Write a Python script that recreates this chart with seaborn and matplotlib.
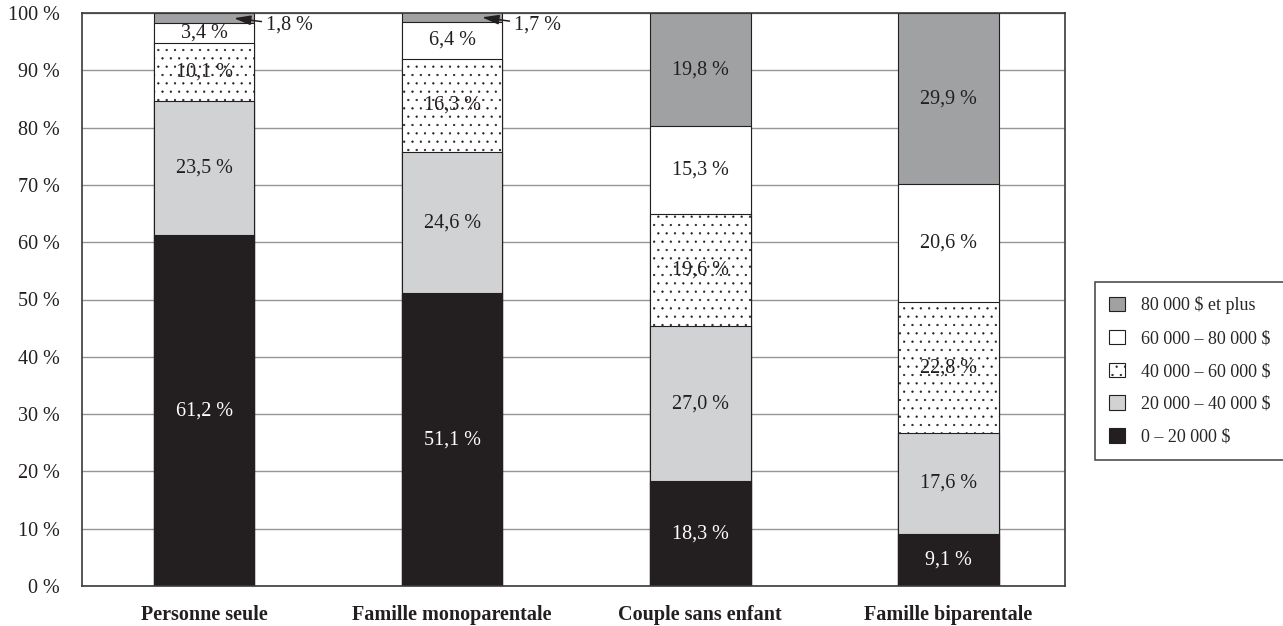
import numpy as np
import pandas as pd
import matplotlib
matplotlib.use("Agg")
import matplotlib.pyplot as plt
from matplotlib.patches import Patch
import seaborn as sns

categories = ["Personne seule", "Famille monoparentale", "Couple sans enfant", "Famille biparentale"]
tranches = ["0 – 20 000 $", "20 000 – 40 000 $", "40 000 – 60 000 $", "60 000 – 80 000 $", "80 000 $ et plus"]
v_0_20 = [61.2, 51.1, 18.3, 9.1]
v_20_40 = [23.5, 24.6, 27.0, 17.6]
v_40_60 = [10.1, 16.3, 19.6, 22.8]
v_60_80 = [3.4, 6.4, 15.3, 20.6]
v_80_plus = [1.8, 1.7, 19.8, 29.9]
y_ticks = [0, 10, 20, 30, 40, 50, 60, 70, 80, 90, 100]

series = [v_0_20, v_20_40, v_40_60, v_60_80, v_80_plus]
colors = ["#231f20", "#d1d2d3", "white", "white", "#a0a1a3"]
hatches = [None, None, "..", None, None]
text_colors = ["white", "#231f20", "#231f20", "#231f20", "#231f20"]

sns.set_theme(style="white")
plt.rcParams["font.family"] = ["Liberation Serif", "DejaVu Serif"]
plt.rcParams["hatch.linewidth"] = 0.4
plt.rcParams["hatch.color"] = "#231f20"

fig = plt.figure(figsize=(12.83, 6.26), dpi=100)
ax = fig.add_axes([82 / 1283, 1 - 586 / 626, (1065 - 82) / 1283, (586 - 13) / 626])

# cumulative stacks, drawn from the top layer down so lower layers overlay
cum = np.cumsum(np.array(series), axis=0)
for i in range(len(series) - 1, -1, -1):
    df = pd.DataFrame({"cat": categories, "val": cum[i]})
    sns.barplot(data=df, x="cat", y="val", ax=ax, color=colors[i], width=0.405,
                edgecolor="#231f20", linewidth=0.8, hatch=hatches[i], saturation=1, zorder=2)

# value labels
for i, vals in enumerate(series):
    for j, v in enumerate(vals):
        if v < 2.5:
            continue
        y = cum[i][j] - v / 2
        ax.text(j, y, f"{v:.1f} %".replace(".", ","), ha="center", va="center",
                fontsize=14.5, color=text_colors[i], zorder=4)

# small top segments annotated with arrows
for j in range(2):
    v = v_80_plus[j]
    ax.annotate(f"{v:.1f} %".replace(".", ","), xy=(j + 0.12, cum[3][j] + v / 2),
                xytext=(j + 0.25, 97.9), ha="left", va="center", fontsize=14.5, color="#231f20",
                arrowprops=dict(arrowstyle="-|>,head_length=0.7,head_width=0.2",
                                color="#231f20", lw=1.1, shrinkA=1, shrinkB=0),
                zorder=5)

ax.set_xlim(-0.492, 3.47)
ax.set_ylim(0, 100)
ax.set_yticks(y_ticks)
ax.set_yticklabels([f"{t} %" for t in y_ticks], fontsize=14.5, color="#231f20")
ax.set_xlabel("")
ax.set_ylabel("")
ax.tick_params(axis="x", length=0, pad=14)
ax.tick_params(axis="y", length=0, pad=16)
for lab in ax.get_xticklabels():
    lab.set_fontweight("bold")
    lab.set_fontsize(14.5)
    lab.set_color("#231f20")
ax.yaxis.grid(True, color="#959595", linewidth=1.0, zorder=0)
ax.set_axisbelow(True)
for s in ax.spines.values():
    s.set_visible(True)
    s.set_color("#3a3a3a")
    s.set_linewidth(1.2)

handles = [Patch(facecolor=colors[i], edgecolor="#231f20", hatch=hatches[i], linewidth=0.8,
                 label=tranches[i]) for i in range(len(tranches) - 1, -1, -1)]
leg = fig.legend(handles=handles, loc="upper left", bbox_to_anchor=(1095 / 1283, 1 - 282 / 626),
                 frameon=True, fancybox=False, edgecolor="#231f20", fontsize=13,
                 handlelength=0.85, handleheight=0.85, labelspacing=0.85, borderpad=0.8,
                 handletextpad=0.9, borderaxespad=0)
leg.get_frame().set_linewidth(1.2)

fig.savefig("out.png", dpi=100)
